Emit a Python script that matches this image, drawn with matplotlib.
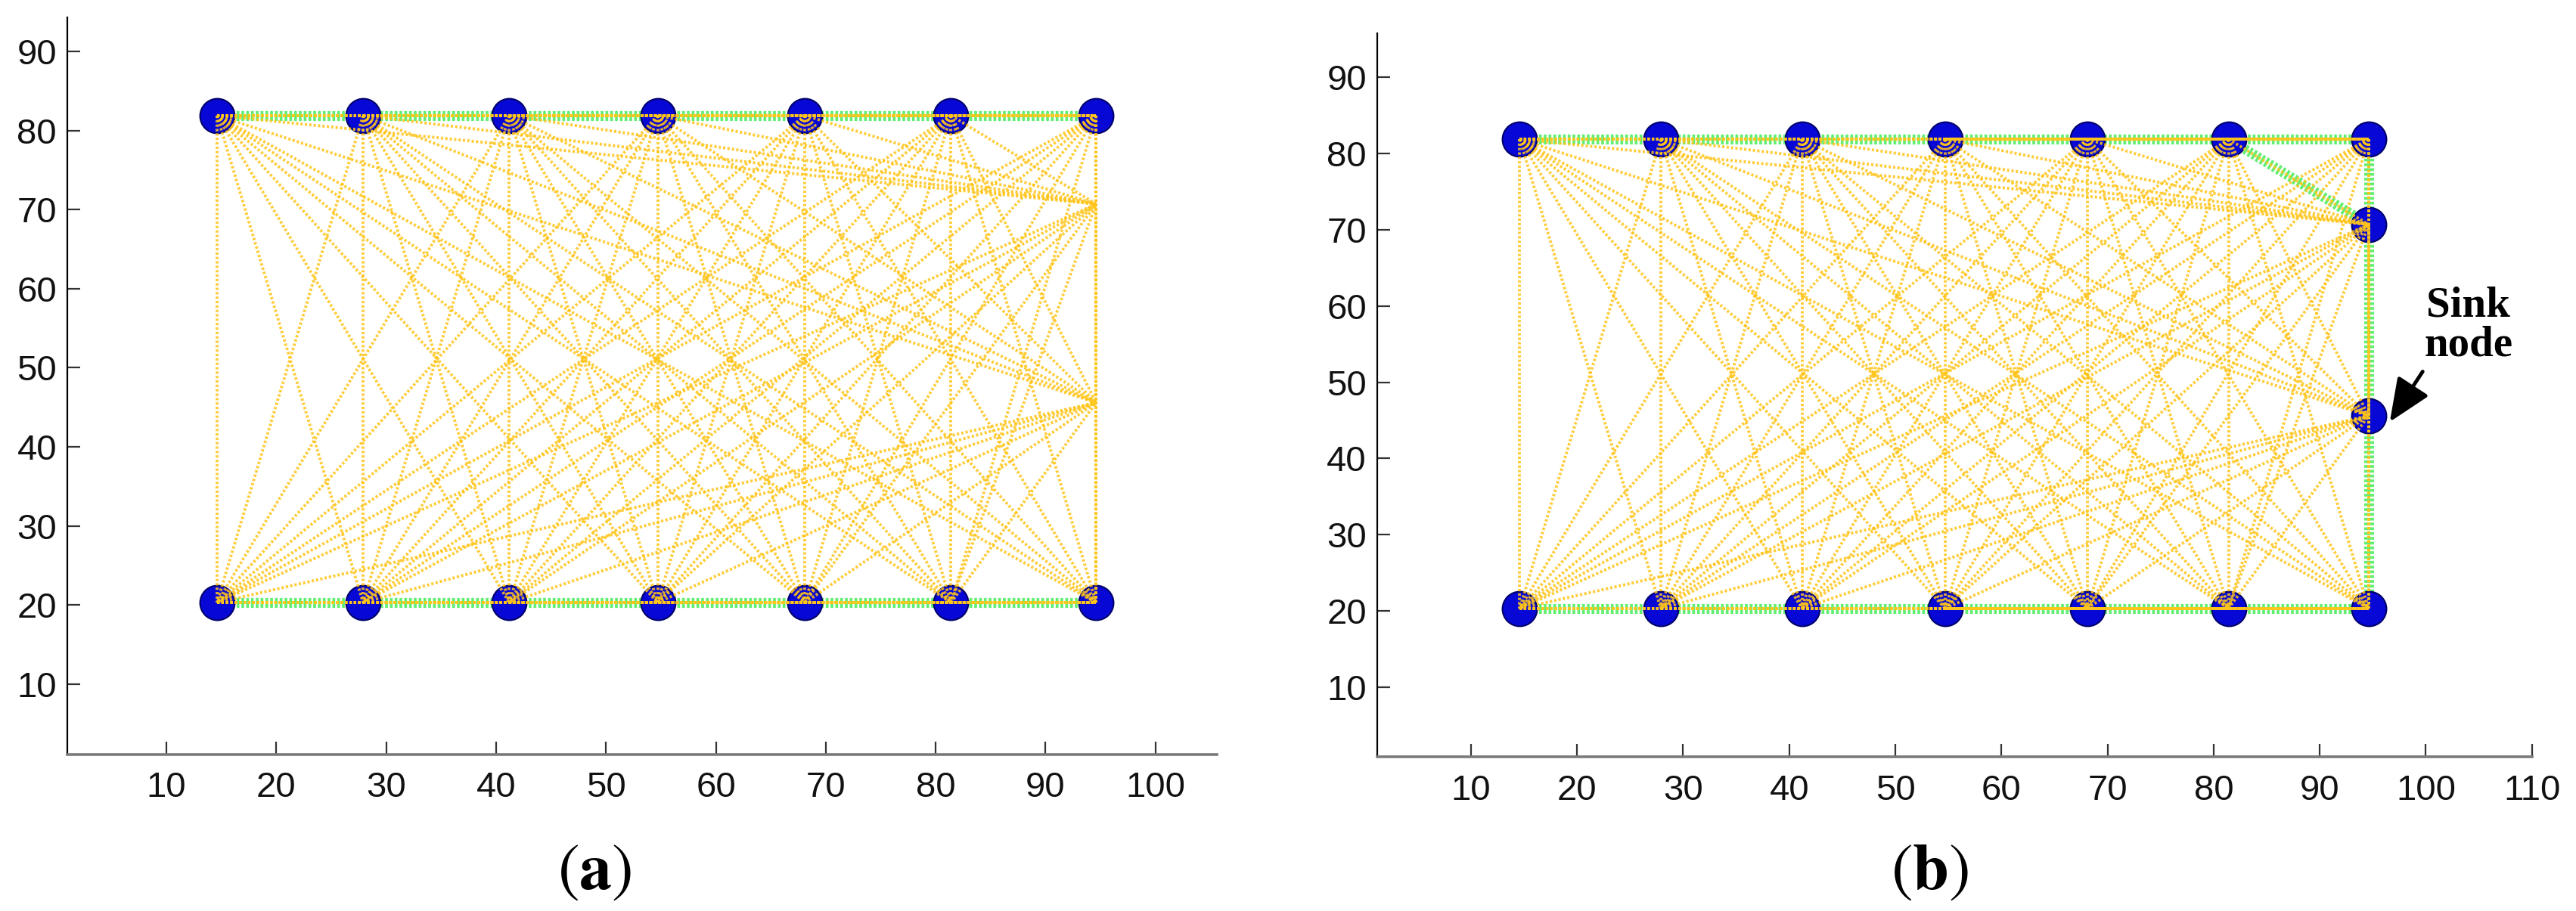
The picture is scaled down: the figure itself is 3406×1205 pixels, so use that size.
import itertools
import matplotlib
matplotlib.use("Agg")
import matplotlib.pyplot as plt

# ---------------- data ----------------
col_x = [14.6, 27.9, 41.2, 54.7, 68.1, 81.4, 94.6]   # node columns
top_y = 81.9
bottom_y = 20.3
right_x = 94.6
right_y = [70.7, 45.6]                                 # extra nodes on the right side

x_ticks_a = [10, 20, 30, 40, 50, 60, 70, 80, 90, 100]
x_ticks_b = [10, 20, 30, 40, 50, 60, 70, 80, 90, 100, 110]
y_ticks = [10, 20, 30, 40, 50, 60, 70, 80, 90]

# node list: 0..6 top row, 7..13 bottom row, 14..15 right column
nodes = [(x, top_y) for x in col_x] + [(x, bottom_y) for x in col_x] + \
        [(right_x, y) for y in right_y]
TOP = list(range(0, 7))
BOT = list(range(7, 14))
R1, R2 = 14, 15

# green routing paths (sequences of node indices)
green_a = [TOP, BOT]
green_b = [TOP, BOT, [5, R1], [6, R1, R2, 13]]

markers_a = TOP + BOT            # right-side nodes not drawn as markers in (a)
markers_b = TOP + BOT + [R1, R2]

# ---------------- style ----------------
plt.rcParams['font.family'] = ['Liberation Sans', 'DejaVu Sans']
plt.rcParams['mathtext.fontset'] = 'stix'

YEL = '#FFC51A'
GRN = '#3CEB50'
BLUE = '#0808D6'

fig = plt.figure(figsize=(34.06, 12.05), dpi=100)
ax_a = fig.add_axes([0.02613, 0.1718, 0.4463, 0.8091])
ax_b = fig.add_axes([0.5346, 0.1689, 0.4483, 0.7946])


def draw(ax, green_paths, marker_idx):
    # green paths underneath
    for path in green_paths:
        xs = [nodes[i][0] for i in path]
        ys = [nodes[i][1] for i in path]
        ax.plot(xs, ys, color=GRN, lw=9.5, ls=(0, (0.28, 0.2)),
                solid_capstyle='butt', dash_capstyle='butt', zorder=1, alpha=0.8)
    # markers
    mx = [nodes[i][0] for i in marker_idx]
    my = [nodes[i][1] for i in marker_idx]
    ax.plot(mx, my, 'o', ms=33, mfc=BLUE, mec='#00006A', mew=1.5, zorder=2)
    # complete graph of dotted yellow links on top
    for i, j in itertools.combinations(range(len(nodes)), 2):
        ax.plot([nodes[i][0], nodes[j][0]], [nodes[i][1], nodes[j][1]],
                color=YEL, lw=2.8, ls=(0, (0.8, 0.7)), alpha=0.85, zorder=3)


draw(ax_a, green_a, markers_a)
draw(ax_b, green_b, markers_b)

for ax, xl, yl, xt in [(ax_a, (0.98, 105.6), (1.1, 94.3), x_ticks_a),
                       (ax_b, (1.16, 110.0), (0.8, 95.8), x_ticks_b)]:
    ax.set_xlim(*xl)
    ax.set_ylim(*yl)
    ax.set_xticks(xt)
    ax.set_yticks(y_ticks)
    ax.spines['top'].set_visible(False)
    ax.spines['right'].set_visible(False)
    ax.spines['left'].set_color('black')
    ax.spines['left'].set_linewidth(1.6)
    ax.spines['bottom'].set_color('#7a7a7a')
    ax.spines['bottom'].set_linewidth(2.6)
    ax.tick_params(axis='both', direction='in', length=12, width=1.6,
                   labelsize=34, colors='#333333', labelcolor='#111111')
    ax.tick_params(axis='x', pad=16)
    ax.tick_params(axis='y', pad=10)
    ax.set_facecolor('none')

fig.text(0.2308, 0.0423, r'$(\mathbf{a})$', ha='center', va='center', fontsize=62)
fig.text(0.749, 0.0423, r'$(\mathbf{b})$', ha='center', va='center', fontsize=62)

ax_b.text(104.0, 57.5, 'Sink\nnode', ha='center', va='center',
          family=['Liberation Serif', 'DejaVu Serif'], weight='bold',
          fontsize=41, linespacing=1.0)
ax_b.annotate('', xy=(96.6, 44.8), xytext=(99.7, 51.4),
              arrowprops=dict(arrowstyle='-|>,head_length=0.7,head_width=0.3',
                              lw=3.5, color='black', mutation_scale=50,
                              shrinkA=0, shrinkB=0))

fig.savefig('out.png', dpi=100)
